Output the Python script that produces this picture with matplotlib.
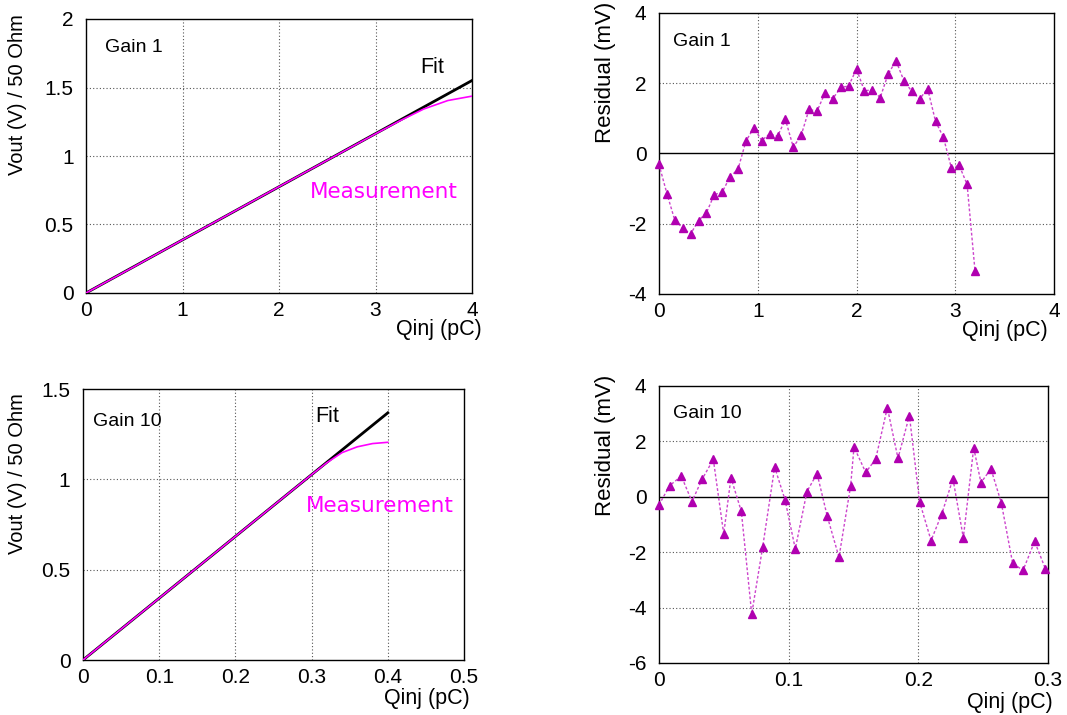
import matplotlib
matplotlib.use("Agg")
import matplotlib.pyplot as plt

# ---------------- data ----------------
# Gain 1 : linearity
g1_fit_q = [0.0, 4.0]
g1_fit_v = [0.0, 1.551]
g1_meas_q = [0.0, 0.5, 1.0, 1.5, 2.0, 2.5, 3.0, 3.25, 3.5, 3.75, 4.0]
g1_meas_v = [0.0, 0.193, 0.388, 0.582, 0.776, 0.969, 1.162, 1.256, 1.343, 1.405, 1.437]

# Gain 10 : linearity
g10_fit_q = [0.0, 0.4]
g10_fit_v = [0.0, 1.368]
g10_meas_q = [0.0, 0.05, 0.1, 0.15, 0.2, 0.25, 0.3, 0.32, 0.34, 0.36, 0.38, 0.40]
g10_meas_v = [0.0, 0.171, 0.342, 0.513, 0.684, 0.855, 1.026, 1.092, 1.148, 1.180, 1.198, 1.205]

# Gain 1 : residuals (mV)
g1_res_q = [0.00, 0.08, 0.16, 0.24, 0.32, 0.40, 0.48, 0.56, 0.64, 0.72,
            0.80, 0.88, 0.96, 1.04, 1.12, 1.20, 1.28, 1.36, 1.44, 1.52,
            1.60, 1.68, 1.76, 1.84, 1.92, 2.00, 2.08, 2.16, 2.24, 2.32,
            2.40, 2.48, 2.56, 2.64, 2.72, 2.80, 2.88, 2.96, 3.04, 3.12, 3.20]
g1_res = [-0.31, -1.14, -1.90, -2.12, -2.29, -1.91, -1.69, -1.17, -1.10, -0.66,
          -0.45, 0.35, 0.73, 0.37, 0.56, 0.49, 0.97, 0.18, 0.52, 1.26,
          1.20, 1.72, 1.56, 1.88, 1.92, 2.41, 1.78, 1.82, 1.59, 2.26,
          2.64, 2.07, 1.77, 1.55, 1.85, 0.92, 0.46, -0.40, -0.34, -0.88, -3.34]

# Gain 10 : residuals (mV)
g10_res_q = [0.0000, 0.0082, 0.0172, 0.0254, 0.0332, 0.0419, 0.0499, 0.0555,
             0.0635, 0.0715, 0.0800, 0.0892, 0.0972, 0.1051, 0.1141, 0.1219,
             0.1298, 0.1388, 0.1478, 0.1504, 0.1594, 0.1671, 0.1761, 0.1843,
             0.1931, 0.2010, 0.2098, 0.2180, 0.2267, 0.2347, 0.2427, 0.2483,
             0.2560, 0.2640, 0.2727, 0.2807, 0.2897, 0.2980]
g10_res = [-0.29, 0.40, 0.75, -0.17, 0.63, 1.35, -1.34, 0.69,
           -0.53, -4.23, -1.80, 1.07, -0.11, -1.88, 0.19, 0.84,
           -0.71, -2.18, 0.40, 1.80, 0.88, 1.36, 3.22, 1.39,
           2.93, -0.18, -1.58, -0.63, 0.65, -1.48, 1.77, 0.51,
           1.01, -0.22, -2.39, -2.66, -1.61, -2.60]

# ---------------- figure ----------------
W, H = 1067, 715
fig = plt.figure(figsize=(W / 100, H / 100), dpi=100)
SANS = "Liberation Sans"
MAG = "#ff00ff"
RES_MK = "#b000b0"
RES_LN = "#cc44cc"
GRID = dict(color="#555555", linestyle=(0, (1, 2)), linewidth=0.8)


def rect(l, r, t, b):
    return [l / W, 1 - b / H, (r - l) / W, (b - t) / H]


def ftext(x, y, s, **kw):
    kw.setdefault("family", SANS)
    fig.text(x / W, 1 - y / H, s, **kw)


def style(ax, xlim, ylim, xticks, yticks, xlabels, ylabels, xgrid, ygrid):
    ax.set_xlim(*xlim)
    ax.set_ylim(*ylim)
    ax.set_xticks(xticks)
    ax.set_yticks(yticks)
    ax.set_xticklabels(xlabels, family=SANS, fontsize=15)
    ax.set_yticklabels(ylabels, family=SANS, fontsize=15)
    ax.tick_params(length=0, pad=6)
    ax.tick_params(axis="y", pad=9)
    for g in xgrid:
        ax.axvline(g, zorder=0, **GRID)
    for g in ygrid:
        ax.axhline(g, zorder=0, **GRID)
    for sp in ax.spines.values():
        sp.set_linewidth(1.0)
        sp.set_color("black")


# Top-left : Gain 1 linearity
ax1 = fig.add_axes(rect(86, 472, 19, 293))
style(ax1, (0, 4), (0, 2), [0, 1, 2, 3, 4], [0, 0.5, 1, 1.5, 2],
      ["0", "1", "2", "3", "4"], ["0", "0.5", "1", "1.5", "2"],
      [1, 2, 3], [0.5, 1, 1.5])
ax1.plot(g1_fit_q, g1_fit_v, color="black", lw=2.0, zorder=3)
ax1.plot(g1_meas_q, g1_meas_v, color=MAG, lw=1.2, zorder=4)
ftext(105, 52, "Gain 1", fontsize=14)
ftext(420, 73, "Fit", fontsize=15.5)
ftext(310, 198, "Measurement", fontsize=15.5, color=MAG, family="DejaVu Sans")
ftext(482, 335, "Qinj (pC)", fontsize=15.5, ha="right")
ftext(18, 14, "Vout (V) / 50 Ohm", fontsize=14.5, rotation=90, ha="center", va="top")

# Bottom-left : Gain 10 linearity
ax2 = fig.add_axes(rect(83, 464, 389, 660))
style(ax2, (0, 0.5), (0, 1.5), [0, 0.1, 0.2, 0.3, 0.4, 0.5], [0, 0.5, 1, 1.5],
      ["0", "0.1", "0.2", "0.3", "0.4", "0.5"], ["0", "0.5", "1", "1.5"],
      [0.1, 0.2, 0.3, 0.4], [0.5, 1])
ax2.plot(g10_fit_q, g10_fit_v, color="black", lw=2.0, zorder=3)
ax2.plot(g10_meas_q, g10_meas_v, color=MAG, lw=1.2, zorder=4)
ftext(93, 426, "Gain 10", fontsize=14)
ftext(315, 422, "Fit", fontsize=15.5)
ftext(306, 512, "Measurement", fontsize=15.5, color=MAG, family="DejaVu Sans")
ftext(470, 704, "Qinj (pC)", fontsize=15.5, ha="right")
ftext(18, 393, "Vout (V) / 50 Ohm", fontsize=14.5, rotation=90, ha="center", va="top")

# Top-right : Gain 1 residuals
ax3 = fig.add_axes(rect(659, 1054, 13, 294))
style(ax3, (0, 4), (-4, 4), [0, 1, 2, 3, 4], [-4, -2, 0, 2, 4],
      ["0", "1", "2", "3", "4"], ["-4", "-2", "0", "2", "4"],
      [1, 2, 3], [-2, 2])
ax3.axhline(0, color="black", lw=1.0, zorder=1)
ax3.plot(g1_res_q, g1_res, color=RES_LN, lw=1.0, linestyle=(0, (2, 1.5)), zorder=3)
ax3.plot(g1_res_q, g1_res, linestyle="none", marker="^", ms=5.5, color=RES_MK,
         zorder=4, clip_on=False)
ftext(673, 46, "Gain 1", fontsize=14)
ftext(1048, 336, "Qinj (pC)", fontsize=15.5, ha="right")
ftext(605, 2, "Residual (mV)", fontsize=16, rotation=90, ha="center", va="top")

# Bottom-right : Gain 10 residuals
ax4 = fig.add_axes(rect(659, 1048, 386, 663))
style(ax4, (0, 0.3), (-6, 4), [0, 0.1, 0.2, 0.3], [-6, -4, -2, 0, 2, 4],
      ["0", "0.1", "0.2", "0.3"], ["-6", "-4", "-2", "0", "2", "4"],
      [0.1, 0.2], [-4, -2, 2])
ax4.axhline(0, color="black", lw=1.0, zorder=1)
ax4.plot(g10_res_q, g10_res, color=RES_LN, lw=1.0, linestyle=(0, (2, 1.5)), zorder=3)
ax4.plot(g10_res_q, g10_res, linestyle="none", marker="^", ms=5.5, color=RES_MK,
         zorder=4, clip_on=False)
ftext(673, 418, "Gain 10", fontsize=14)
ftext(1053, 708, "Qinj (pC)", fontsize=15.5, ha="right")
ftext(605, 375, "Residual (mV)", fontsize=16, rotation=90, ha="center", va="top")

fig.savefig("out.png", dpi=100)
